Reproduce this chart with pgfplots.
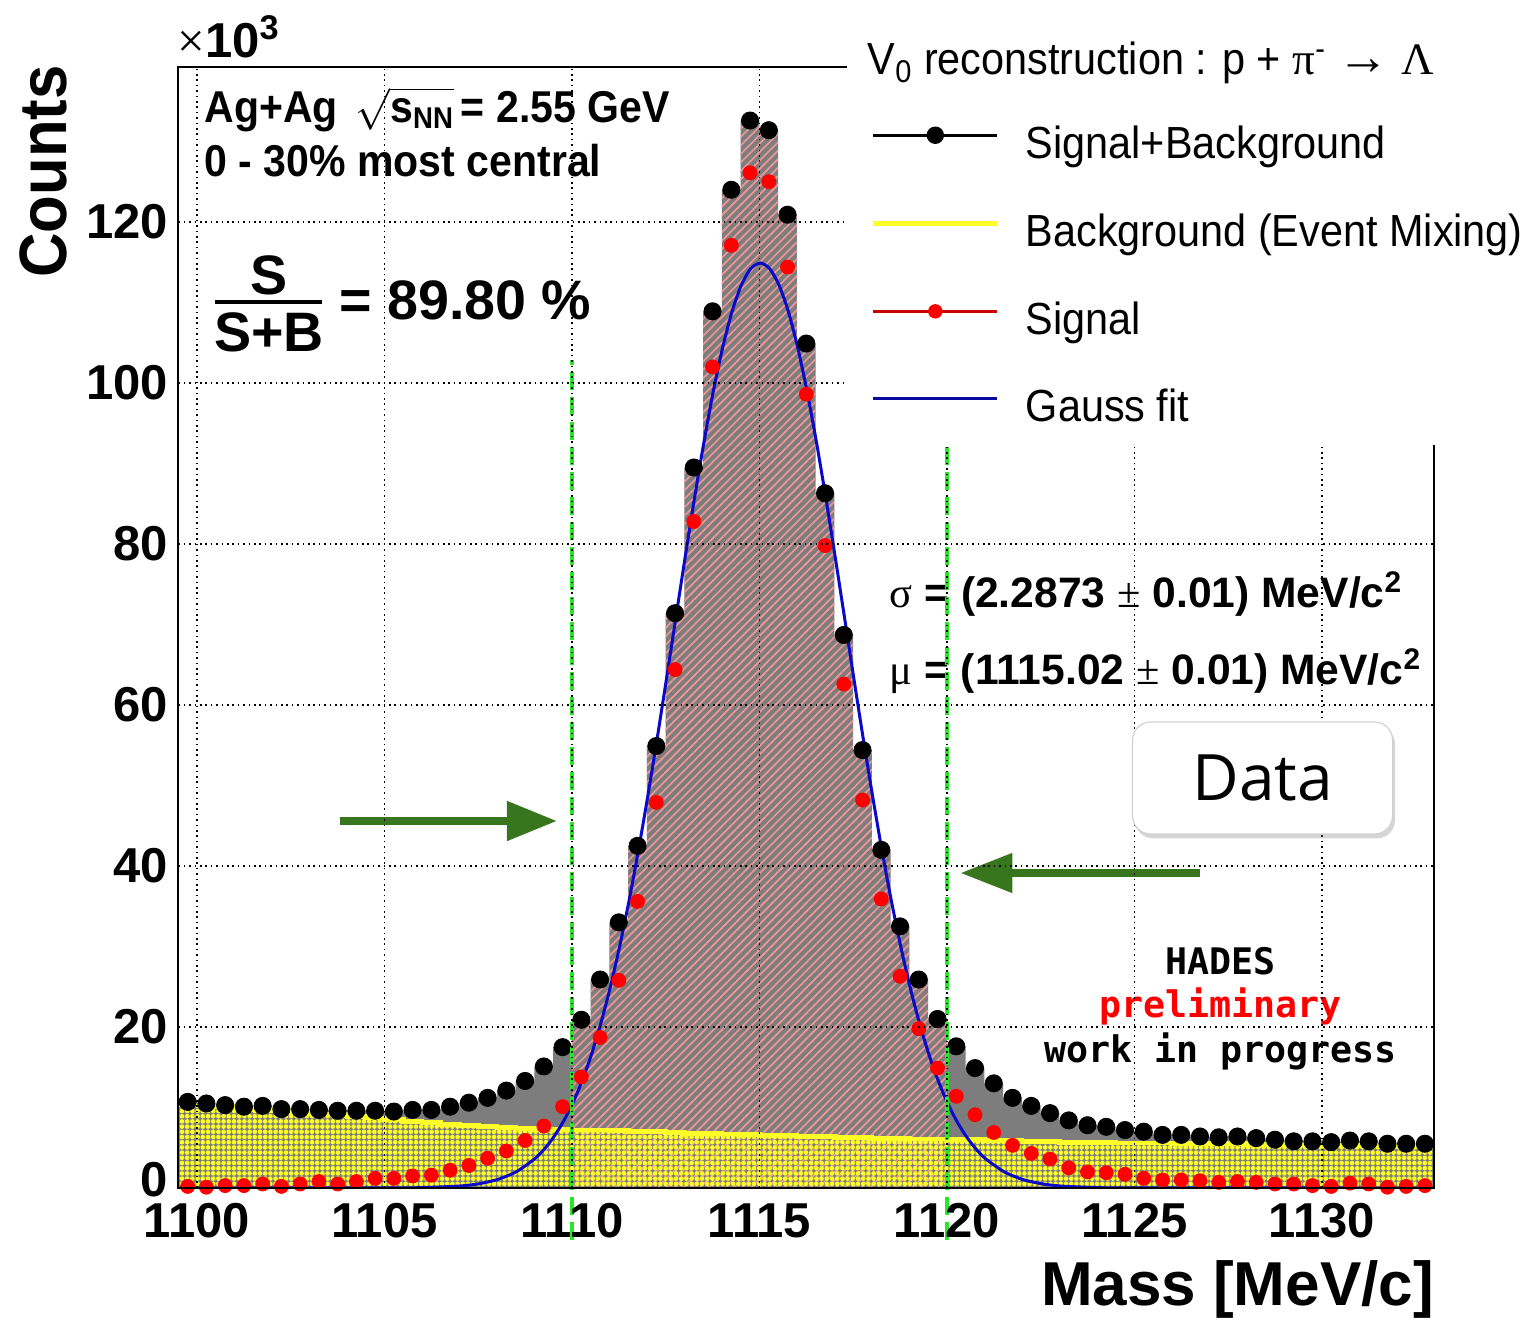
\documentclass[border=0pt]{standalone}
\usepackage{amsmath}
\usepackage{fontspec}
\setmainfont{Liberation Sans}
\newfontfamily\nar{Liberation Sans}[FakeStretch=0.92]
\newfontfamily\symf{Liberation Serif}
\newfontfamily\hadesfont{DejaVu Sans Mono}
\newfontfamily\datafont{Open Sans}
\usepackage{pgfplots}
\usepackage{pgfplotstable}
\pgfplotsset{compat=1.18}
\usetikzlibrary{patterns.meta,arrows.meta,shadows}

\definecolor{hatchred}{RGB}{240,150,150}
\definecolor{arrowgreen}{RGB}{56,118,29}
\definecolor{dashgreen}{RGB}{40,230,40}
\definecolor{fitblue}{RGB}{10,10,200}
\definecolor{histgray}{RGB}{125,125,125}
\definecolor{legred}{RGB}{200,0,0}
\definecolor{bgyellow}{RGB}{255,255,40}

\pgfplotsset{
 leg line mark/.style={legend image code/.code={%
   \path (0pt,-10pt) (62pt,10pt);
   \draw[mark repeat=2,mark phase=2,##1] plot coordinates {(0pt,4pt) (31pt,4pt) (62pt,4pt)};}},
 leg line/.style={legend image code/.code={%
   \path (0pt,-10pt) (62pt,10pt);
   \draw[##1] (0pt,4pt) -- (62pt,4pt);}},
}

% e = lower bin edge [MeV/c^2], sb = signal+background, s = signal, b = background (x 10^3)
\pgfplotstableread{
e sb s b
1099.5 10.7 0.2 10.4
1100.0 10.5 0.1 10.3
1100.5 10.3 0.3 10.1
1101.0 10.1 0.3 10.0
1101.5 10.2 0.5 9.8
1102.0 9.8 0.2 9.6
1102.5 9.8 0.5 9.4
1103.0 9.7 0.8 9.2
1103.5 9.6 0.5 9.1
1104.0 9.6 0.8 8.9
1104.5 9.6 1.2 8.7
1105.0 9.5 1.2 8.5
1105.5 9.7 1.5 8.3
1106.0 9.7 1.6 8.1
1106.5 10.1 2.2 7.9
1107.0 10.6 2.8 7.8
1107.5 11.2 3.7 7.6
1108.0 12.1 4.6 7.5
1108.5 13.3 5.9 7.4
1109.0 15.1 7.7 7.3
1109.5 17.5 10.1 7.3
1110.0 20.9 13.8 7.2
1110.5 25.9 18.7 7.2
1111.0 33.0 25.8 7.1
1111.5 42.5 35.6 7.0
1112.0 54.9 47.9 7.0
1112.5 71.4 64.4 6.9
1113.0 89.5 82.8 6.8
1113.5 108.9 102.0 6.8
1114.0 124.0 117.1 6.7
1114.5 132.6 126.1 6.6
1115.0 131.4 125.0 6.5
1115.5 120.9 114.4 6.5
1116.0 104.9 98.6 6.4
1116.5 86.3 79.8 6.4
1117.0 68.7 62.6 6.3
1117.5 54.4 48.2 6.3
1118.0 42.0 35.9 6.2
1118.5 32.5 26.3 6.2
1119.0 25.9 19.8 6.1
1119.5 21.0 14.9 6.1
1120.0 17.6 11.4 6.0
1120.5 14.9 9.1 6.0
1121.0 13.0 6.9 5.9
1121.5 11.2 5.3 5.9
1122.0 10.2 4.3 5.8
1122.5 9.3 3.6 5.8
1123.0 8.4 2.5 5.7
1123.5 7.8 2.0 5.7
1124.0 7.6 1.9 5.7
1124.5 7.2 1.7 5.6
1125.0 7.0 1.2 5.6
1125.5 6.6 1.0 5.6
1126.0 6.6 1.0 5.5
1126.5 6.4 0.9 5.5
1127.0 6.3 0.7 5.5
1127.5 6.4 0.8 5.5
1128.0 6.2 0.7 5.4
1128.5 6.0 0.5 5.4
1129.0 5.8 0.5 5.4
1129.5 5.8 0.3 5.4
1130.0 5.7 0.2 5.3
1130.5 5.9 0.6 5.3
1131.0 5.8 0.5 5.3
1131.5 5.5 0.1 5.2
1132.0 5.5 0.2 5.2
1132.5 5.5 0.3 5.2
1133.0 5.5 0.3 5.2
}\hist

\begin{document}
\begin{tikzpicture}
\begin{axis}[
  name=ax,
  set layers=axis on top,
  clip mode=individual,
  scale only axis,
  width=628pt, height=560.5pt,
  xmin=1099.5, xmax=1133.0, ymin=0, ymax=139.25,
  xtick={1100,1105,...,1130}, xticklabels={1100,1105,1110,1115,1120,1125,1130},
  ytick={0,20,...,120}, yticklabels={\raisebox{4.5pt}[\height][0pt]{0},20,40,60,80,100,120},
  major tick length=0pt, tick style={draw=none},
  grid=major,
  grid style={black, line width=0.8pt, dash pattern=on 0.8pt off 1.9pt},
  axis line style={black, line width=1pt},
  /pgf/number format/assume math mode=true,
  tick label style={font=\fontsize{24.5}{29}\selectfont\bfseries},
  xticklabel style={inner sep=0pt, yshift=-7.5pt},
  yticklabel style={inner sep=0pt, xshift=-5pt},
  xlabel={Mass [MeV/c]}, ylabel={Counts},
  xlabel style={at={(axis description cs:1,-0.1044)}, anchor=base east, inner sep=0pt, font=\fontsize{31}{36}\selectfont\bfseries},
  ylabel style={at={(axis description cs:-0.0892,1.0018)}, anchor=base east, inner sep=0pt, font=\nar\fontsize{33.5}{40}\selectfont\bfseries},
  legend style={at={(axis cs:1117.96,132.5)}, anchor=north west, draw=none, fill=none,
    inner sep=0pt, font=\nar\fontsize{22.5}{27}\selectfont, row sep=22.1pt, column sep=13pt,
    nodes={inner sep=0pt}},
  legend cell align=left,
]
% S+B histogram
\addplot[forget plot, draw=none, fill=histgray, const plot mark left] table[x=e,y=sb]{\hist} \closedcycle;
% integration window
\addplot[forget plot, draw=none, pattern={Lines[angle=45,distance=3pt,line width=0.85pt]}, pattern color=hatchred, const plot mark left, restrict x to domain=1109.9:1120.1] table[x=e,y=sb]{\hist} \closedcycle;
% background histogram
\addplot[forget plot, draw=none, pattern={Dots[distance=2.6pt,radius=1.15pt]}, pattern color=bgyellow, const plot mark left] table[x=e,y=b]{\hist} \closedcycle;
\addplot[forget plot, bgyellow, line width=2.4pt, const plot mark left] table[x=e,y=b]{\hist};
% Gauss fit
\addplot[forget plot, fitblue, line width=1.5pt, smooth, tension=0.4] coordinates {
(1099.5,0) (1105.02,0.01) (1106.02,0.05) (1107.02,0.25) (1107.52,0.53) (1108.02,1.06) (1108.52,2.03) (1109.02,3.68) (1109.27,4.88) (1109.52,6.38) (1109.77,8.25) (1110.02,10.53) (1110.27,13.30) (1110.52,16.59) (1110.77,20.45) (1111.02,24.90) (1111.27,29.97) (1111.52,35.63) (1111.77,41.87) (1112.02,48.62) (1112.27,55.77) (1112.52,63.23) (1112.77,70.83) (1113.02,78.40) (1113.27,85.74) (1113.52,92.67) (1113.77,98.96) (1114.02,104.43) (1114.27,108.89) (1114.52,112.19) (1114.77,114.22) (1115.02,114.90) (1115.27,114.22) (1115.52,112.19) (1115.77,108.89) (1116.02,104.43) (1116.27,98.96) (1116.52,92.67) (1116.77,85.74) (1117.02,78.40) (1117.27,70.83) (1117.52,63.23) (1117.77,55.77) (1118.02,48.62) (1118.27,41.87) (1118.52,35.63) (1118.77,29.97) (1119.02,24.90) (1119.27,20.45) (1119.52,16.59) (1119.77,13.30) (1120.02,10.53) (1120.27,8.25) (1120.52,6.38) (1120.77,4.88) (1121.02,3.68) (1121.52,2.03) (1122.02,1.06) (1122.52,0.53) (1123.02,0.25) (1124.02,0.05) (1125.02,0.01) (1133,0)};
% markers
\addplot[forget plot, only marks, mark=*, mark size=4.3pt, black, skip coords between index={67}{68}] table[x expr=\thisrow{e}+0.25, y=sb]{\hist};
\addplot[forget plot, only marks, mark=*, mark size=3.5pt, red, skip coords between index={67}{68}] table[x expr=\thisrow{e}+0.25, y=s]{\hist};

\addlegendimage{leg line mark, black, line width=1.5pt, mark=*, mark size=3.6pt}
\addlegendentry{\vphantom{(}Signal+Background}
\addlegendimage{leg line, bgyellow, line width=2.5pt}
\addlegendentry{\vphantom{(}Background (Event Mixing)}
\addlegendimage{leg line mark, legred, line width=1.2pt, mark=*, mark size=3pt, mark options={fill=red,draw=red}}
\addlegendentry{\vphantom{(}Signal}
\addlegendimage{leg line, fitblue!80!black, line width=1.5pt}
\addlegendentry{\vphantom{(}Gauss fit}

% texts
\node[anchor=base west, inner sep=0pt, font=\fontsize{24.5}{29}\selectfont\bfseries] at (axis cs:1099.47,140.37) {{\symf\mdseries ×}10\textsuperscript{3}};
\node[anchor=base west, inner sep=0pt, font=\nar\fontsize{22.3}{26}\selectfont\bfseries] at (axis cs:1100.19,132.4) {Ag+Ag\hspace{0.4em}$\sqrt{\vphantom{A}\text{s}_{\text{\fontsize{15}{17}\selectfont NN}}}$\hspace{-0.1em} = 2.55 GeV};
\node[anchor=base west, inner sep=0pt, font=\nar\fontsize{22.3}{26}\selectfont\bfseries] at (axis cs:1100.19,125.7) {0 - 30\% most central};
\node[anchor=base, inner sep=0pt, font=\fontsize{27.8}{33}\selectfont\bfseries] at (axis cs:1101.92,110.93) {S};
\draw[line width=2.2pt] (axis cs:1100.48,110.06) -- (axis cs:1103.335,110.06);
\node[anchor=base, inner sep=0pt, font=\fontsize{27.8}{33}\selectfont\bfseries] at (axis cs:1101.92,103.85) {S+B};
\node[anchor=base west, inner sep=0pt, font=\fontsize{27.8}{33}\selectfont\bfseries] at (axis cs:1103.79,107.83) {= 89.80 \%};
\node[anchor=base west, inner sep=0pt, font=\fontsize{21.3}{25}\selectfont\bfseries] at (axis cs:1118.46,72.05) {{\symf\mdseries σ} = (2.2873 {\symf\mdseries ±} 0.01) MeV/c\textsuperscript{2}};
\node[anchor=base west, inner sep=0pt, font=\fontsize{21.3}{25}\selectfont\bfseries] at (axis cs:1118.46,62.6) {{\symf\mdseries μ} = (1115.02 {\symf\mdseries ±} 0.01) MeV/c\textsuperscript{2}};
\node[anchor=base, inner sep=0pt, font=\hadesfont\fontsize{18.3}{22}\selectfont\bfseries] at (axis cs:1127.29,26.58) {HADES};
\node[anchor=base, inner sep=0pt, text=red, font=\hadesfont\fontsize{18.3}{22}\selectfont\bfseries] at (axis cs:1127.3,21.12) {preliminary};
\node[anchor=base, inner sep=0pt, font=\hadesfont\fontsize{18.3}{22}\selectfont\bfseries] at (axis cs:1127.3,15.65) {work in progress};

\begin{pgfonlayer}{axis descriptions}
\fill[white] (axis cs:1117.34,92.3) rectangle (axis cs:1136.5,146);
\node[anchor=base west, inner sep=0pt, font=\nar\fontsize{22.5}{27}\selectfont] at (axis cs:1117.88,138.26) {V\textsubscript{0} reconstruction : p + {\symf π}\textsuperscript{-} {\symf\fontsize{26}{30}\selectfont →} {\symf Λ}};
\node[draw=black!18, line width=0.6pt, fill=white, rounded corners=9pt, minimum width=130pt, minimum height=56pt,
  drop shadow={shadow xshift=1.2pt, shadow yshift=-2.2pt, opacity=0.3, fill=black!55},
  font=\datafont\fontsize{32}{38}\selectfont, inner sep=0pt] at (axis cs:1128.42,50.93) {Data};
\end{pgfonlayer}

\coordinate (BL) at (rel axis cs:0,0);
\coordinate (g1a) at (axis cs:1110,-6.5);
\coordinate (g1b) at (axis cs:1110,102.9);
\coordinate (g2a) at (axis cs:1120,-6.5);
\coordinate (g2b) at (axis cs:1120,92.3);
\coordinate (a1s) at (axis cs:1103.82,45.59);
\coordinate (a1e) at (axis cs:1109.6,45.59);
\coordinate (a2s) at (axis cs:1126.76,39.13);
\coordinate (a2e) at (axis cs:1120.36,39.13);
\end{axis}
\draw[dashgreen, line width=1.6pt, dash pattern=on 9pt off 3.5pt] (g1a) -- (g1b);
\draw[dashgreen, line width=1.6pt, dash pattern=on 9pt off 3.5pt] (g2a) -- (g2b);
\draw[arrowgreen, line width=4pt, -{Triangle[length=25pt,width=19pt]}] (a1s) -- (a1e);
\draw[arrowgreen, line width=4pt, -{Triangle[length=26pt,width=19pt]}] (a2s) -- (a2e);
\pgfresetboundingbox
\path (BL) ++(-89.15pt,-65.5pt) rectangle ++(764.5pt,659.5pt);
\end{tikzpicture}
\end{document}
